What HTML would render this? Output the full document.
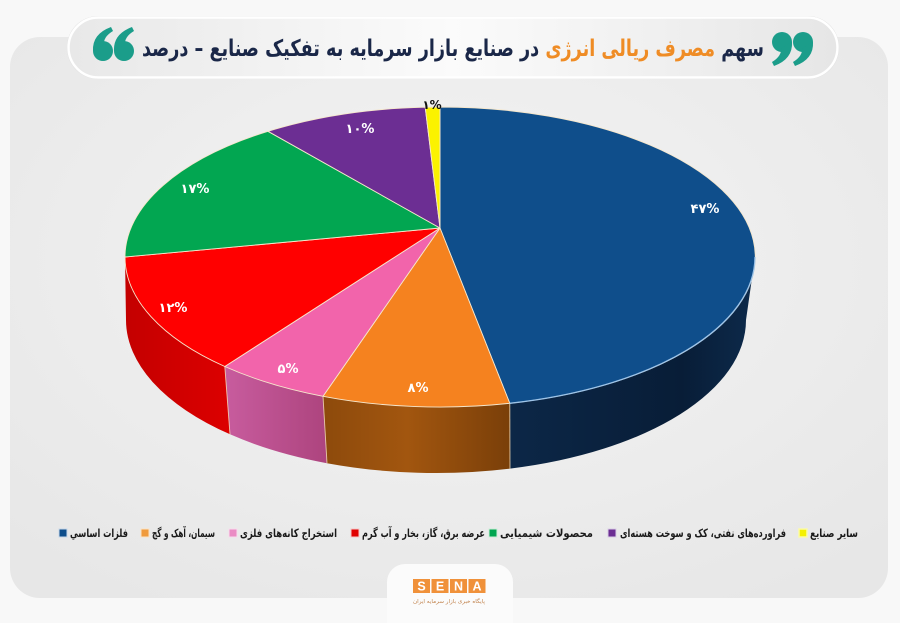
<!DOCTYPE html>
<html>
<head>
<meta charset="utf-8">
<style>
  html,body{margin:0;padding:0;background:#f8f8f8;}
  svg{display:block;}
  .fa{font-family:"DejaVu Sans","Liberation Sans",sans-serif;font-weight:bold;}
</style>
</head>
<body>
<svg width="900" height="623" viewBox="0 0 900 623" xmlns="http://www.w3.org/2000/svg">
  <defs>
    <radialGradient id="panelG" cx="0.5" cy="0.4" r="0.7">
      <stop offset="0" stop-color="#f4f4f4"/>
      <stop offset="1" stop-color="#e7e7e7"/>
    </radialGradient>
    <linearGradient id="pillG" x1="0" y1="0" x2="1" y2="0">
      <stop offset="0" stop-color="#e8e8e8"/>
      <stop offset="0.5" stop-color="#fbfbfb"/>
      <stop offset="1" stop-color="#e6e6e6"/>
    </linearGradient>
    <linearGradient id="redS" x1="0" y1="0" x2="1" y2="0">
      <stop offset="0" stop-color="#c40000"/>
      <stop offset="1" stop-color="#dc0000"/>
    </linearGradient>
    <linearGradient id="pinkS" x1="0" y1="0" x2="1" y2="0">
      <stop offset="0" stop-color="#c85c9e"/>
      <stop offset="1" stop-color="#ad447e"/>
    </linearGradient>
    <linearGradient id="orS" x1="0" y1="0" x2="1" y2="0">
      <stop offset="0" stop-color="#8d4a0c"/>
      <stop offset="0.45" stop-color="#a2560f"/>
      <stop offset="1" stop-color="#7a3f09"/>
    </linearGradient>
    <linearGradient id="blS" x1="0" y1="0" x2="1" y2="0">
      <stop offset="0" stop-color="#0c2747"/>
      <stop offset="0.7" stop-color="#081d37"/>
      <stop offset="1" stop-color="#0d2a4b"/>
    </linearGradient>
  </defs>

  <!-- background panel -->
  <rect x="0" y="0" width="900" height="623" fill="#f8f8f8"/>
  <rect x="10" y="37" width="878" height="561" rx="30" ry="30" fill="url(#panelG)"/>

  <!-- title pill -->
  <rect x="67" y="16" width="772" height="63" rx="31" ry="31" fill="#dedede"/>
  <rect x="68.5" y="17.5" width="769" height="60" rx="30" ry="30" fill="url(#pillG)" stroke="#ffffff" stroke-width="2.5"/>

  <!-- left quotes (opening) -->
  <g fill="#1b9d8a">
    <circle cx="103" cy="51" r="10"/>
    <path d="M93,51 Q92,34 111,27 L113,31 Q103,37 104,45 Z"/>
    <circle cx="124" cy="51" r="10"/>
    <path d="M114,51 Q113,34 132,27 L134,31 Q124,37 125,45 Z"/>
  </g>
  <!-- right quotes (closing) -->
  <g fill="#1b9d8a">
    <circle cx="782" cy="42" r="10"/>
    <path d="M792,42 Q793,59 774,66 L772,62 Q782,56 781,48 Z"/>
    <circle cx="803" cy="42" r="10"/>
    <path d="M813,42 Q814,59 795,66 L793,62 Q803,56 802,48 Z"/>
  </g>

  <!-- title -->
  <text class="fa" x="453" y="56" font-size="23" text-anchor="middle" direction="rtl" textLength="622" lengthAdjust="spacingAndGlyphs" fill="#1a2748">سهم <tspan fill="#ef8c25">مصرف ریالی انرژی</tspan> در صنایع بازار سرمایه به تفکیک صنایع – درصد</text>

  <!-- pie sides -->
  <path d="M125,257 L126,320 A310,153 0 0 0 230,434.3 L224.8,366.5 A315,150 0 0 1 125,257 Z" fill="url(#redS)"/>
  <path d="M224.8,366.5 L230,434.3 A310,153 0 0 0 327,463.2 L323,396.3 A315,150 0 0 1 224.8,366.5 Z" fill="url(#pinkS)"/>
  <path d="M323,396.3 L327,463.2 A310,153 0 0 0 510,468.6 L509.8,403.3 A315,150 0 0 1 323,396.3 Z" fill="url(#orS)"/>
  <path d="M509.8,403.3 L510,468.6 A310,153 0 0 0 746,320 L755,257 A315,150 0 0 1 509.8,403.3 Z" fill="url(#blS)"/>
  <g stroke="#f3dcb8" stroke-width="0.9" fill="none" opacity="0.85">
    <path d="M224.8,366.5 L230,434.3"/>
    <path d="M323,396.3 L327,463.2"/>
    <path d="M509.8,403.3 L510,468.6"/>
  </g>

  <!-- pie top -->
  <g stroke="#f6e7cc" stroke-width="0.9" stroke-linejoin="round">
    <path d="M440,228 L440,107 A315,150 0 0 1 509.8,403.3 Z" fill="#0f4e8b"/>
    <path d="M440,228 L509.8,403.3 A315,150 0 0 1 323,396.3 Z" fill="#f5821f"/>
    <path d="M440,228 L323,396.3 A315,150 0 0 1 224.8,366.5 Z" fill="#f264ab"/>
    <path d="M440,228 L224.8,366.5 A315,150 0 0 1 125,257 Z" fill="#ff0000"/>
    <path d="M440,228 L125,257 A315,150 0 0 1 268,131.3 Z" fill="#02a651"/>
    <path d="M440,228 L268,131.3 A315,150 0 0 1 425.2,107.2 Z" fill="#6c2e93"/>
    <path d="M440,228 L425.2,107.2 A315,150 0 0 1 440,107 Z" fill="#fbf200"/>
  </g>
  <path d="M755,257 A315,150 0 0 1 509.8,403.3" fill="none" stroke="#9ec4e8" stroke-width="1.3"/>

  <!-- pie labels -->
  <g class="fa" font-size="13" fill="#ffffff" text-anchor="middle">
    <text x="705" y="213">۴۷%</text>
    <text x="418" y="392">۸%</text>
    <text x="288" y="373">۵%</text>
    <text x="173" y="312">۱۲%</text>
    <text x="195" y="193">۱۷%</text>
    <text x="360" y="133">۱۰%</text>
  </g>
  <text class="fa" x="432" y="109" font-size="12" fill="#111" text-anchor="middle">۱%</text>

  <!-- legend -->
  <g class="fa" font-size="11.5" fill="#1a1a1a">
    <rect x="799" y="529" width="8" height="8" fill="#f4f000" stroke="#fbfba8" stroke-width="1.5"/>
    <text x="810" y="537" textLength="48" lengthAdjust="spacingAndGlyphs">سایر صنایع</text>

    <rect x="608" y="529" width="8" height="8" fill="#6c2e93" stroke="#d9cde6" stroke-width="1"/>
    <text x="620" y="537" textLength="166" lengthAdjust="spacingAndGlyphs">فراورده‌های نفتی، کک و سوخت هسته‌ای</text>

    <rect x="489" y="529" width="8" height="8" fill="#02a651" stroke="#cdeed9" stroke-width="1"/>
    <text x="500" y="537" textLength="93" lengthAdjust="spacingAndGlyphs">محصولات شیمیایی</text>

    <rect x="351" y="529" width="8" height="8" fill="#e00000" stroke="#f5c8c8" stroke-width="1"/>
    <text x="362" y="537" textLength="123" lengthAdjust="spacingAndGlyphs">عرضه برق، گاز، بخار و آب گرم</text>

    <rect x="229" y="529" width="8" height="8" fill="#ea8cc4" stroke="#f8dced" stroke-width="1"/>
    <text x="240" y="537" textLength="97" lengthAdjust="spacingAndGlyphs">استخراج کانه‌های فلزی</text>

    <rect x="141" y="529" width="8" height="8" fill="#ef9a3c" stroke="#fbe2c4" stroke-width="1"/>
    <text x="152" y="537" textLength="63" lengthAdjust="spacingAndGlyphs">سیمان، آهک و گچ</text>

    <rect x="59" y="529" width="8" height="8" fill="#0f4e8b" stroke="#c8d8ea" stroke-width="1"/>
    <text x="70" y="537" textLength="58" lengthAdjust="spacingAndGlyphs">فلزات اساسي</text>
  </g>

  <!-- logo tab -->
  <rect x="387" y="564" width="126" height="80" rx="18" ry="18" fill="#fbfbfb"/>
  <g>
    <rect x="413" y="579" width="17" height="14" fill="#f0913a"/>
    <rect x="431.5" y="579" width="17" height="14" fill="#f0913a"/>
    <rect x="450" y="579" width="17" height="14" fill="#f0913a"/>
    <rect x="468.5" y="579" width="17" height="14" fill="#f0913a"/>
    <g font-family="Liberation Sans, sans-serif" font-weight="bold" font-size="12.5" fill="#ffffff" text-anchor="middle">
      <text x="421.5" y="590.5">S</text>
      <text x="440" y="590.5">E</text>
      <text x="458.5" y="590.5">N</text>
      <text x="477" y="590.5">A</text>
    </g>
    <text x="449" y="603" font-family="DejaVu Sans, sans-serif" font-size="5.5" fill="#c0814a" text-anchor="middle" textLength="72" lengthAdjust="spacingAndGlyphs">پایگاه خبری بازار سرمایه ایران</text>
  </g>
</svg>
</body>
</html>
